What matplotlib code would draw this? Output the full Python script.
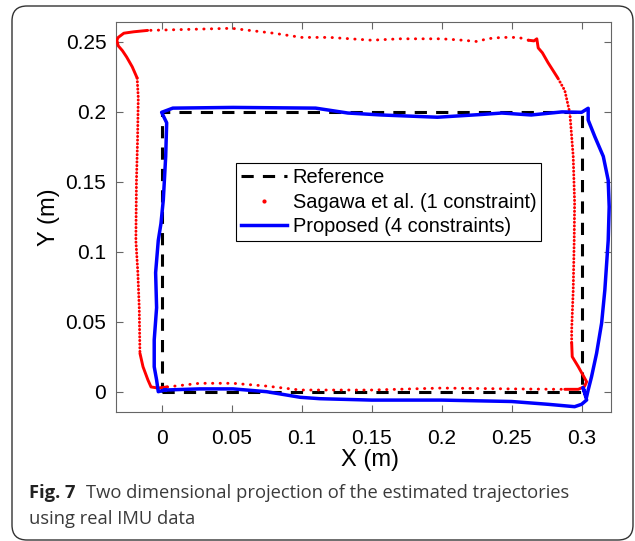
import matplotlib
matplotlib.use('Agg')
import matplotlib.pyplot as plt
from matplotlib.lines import Line2D
from matplotlib.patches import FancyBboxPatch
from matplotlib.ticker import FuncFormatter

# reference square path
ref_x = [0, 0.3, 0.3, 0, 0]
ref_y = [0, 0, 0.2, 0.2, 0]

# Sagawa et al. (1 constraint)
sag_x = [0.004, 0.027, 0.051, 0.075, 0.099, 0.15, 0.2, 0.25, 0.288,
         0.2976, 0.302, 0.3036, 0.2976, 0.2933, 0.2929,
         0.2929, 0.294, 0.2947, 0.295, 0.294, 0.2916, 0.288, 0.283,
         0.276, 0.272, 0.269, 0.268, 0.266, 0.262,
         0.255, 0.243, 0.232, 0.226, 0.215, 0.2, 0.17, 0.15, 0.12, 0.1,
         0.08, 0.05, 0.03, 0.01, -0.01,
         -0.02, -0.027, -0.031, -0.032, -0.031, -0.028, -0.025, -0.021, -0.0175,
         -0.0167, -0.0172, -0.018, -0.0184, -0.017, -0.016, -0.0155,
         -0.0133, -0.0098, -0.0076, -0.0026, 0.004]
sag_y = [0.0034, 0.006, 0.006, 0.004, 0.0012, 0.0012, 0.0026, 0.002, 0.0017,
         0.0017, 0.0036, 0.0071, 0.0179, 0.025, 0.035,
         0.044, 0.0726, 0.108, 0.135, 0.168, 0.199, 0.215, 0.224,
         0.235, 0.242, 0.2455, 0.252, 0.2505, 0.251,
         0.253, 0.253, 0.252, 0.250, 0.251, 0.252, 0.252, 0.251, 0.253, 0.253,
         0.256, 0.2595, 0.259, 0.2585, 0.258,
         0.257, 0.256, 0.253, 0.251, 0.247, 0.2435, 0.239, 0.232, 0.224,
         0.21, 0.18, 0.15, 0.108, 0.085, 0.060, 0.0275,
         0.0178, 0.0084, 0.0034, 0.0026, 0.0034]

# Proposed (4 constraints)
prop_x = [0.0024, 0.027, 0.051, 0.075, 0.099, 0.113, 0.15, 0.2, 0.25, 0.276,
          0.295, 0.300, 0.3036, 0.301, 0.3035, 0.3047, 0.3071, 0.3107, 0.3143,
          0.3166, 0.319, 0.3197, 0.319, 0.3155, 0.3095, 0.3047, 0.3047, 0.300,
          0.286, 0.264, 0.243, 0.229, 0.197, 0.157, 0.133, 0.11, 0.051, 0.008,
          0.0, 0.0036, 0.0029, 0.0012, -0.0005, -0.0024, -0.0043, -0.0036,
          -0.0053, -0.0053, -0.0036, -0.0024, 0.0024]
prop_y = [0.0012, 0.002, 0.002, 0.0, -0.004, -0.005, -0.006, -0.006, -0.007, -0.009,
          -0.0107, -0.009, -0.0059, 0.003, -0.004, 0.0012, 0.0107, 0.0274, 0.049,
          0.0726, 0.108, 0.132, 0.151, 0.168, 0.182, 0.194, 0.2024, 0.1995,
          0.1998, 0.1976, 0.199, 0.198, 0.196, 0.1976, 0.199, 0.2025, 0.203, 0.2025,
          0.1995, 0.192, 0.168, 0.137, 0.12, 0.108, 0.085, 0.060,
          0.037, 0.0178, 0.0084, 0.0, 0.0012]

xticks = [0, 0.05, 0.1, 0.15, 0.2, 0.25, 0.3]
yticks = [0, 0.05, 0.1, 0.15, 0.2, 0.25]

# pieces of the red track: sparse dots, solid where the samples pile up, dense dots
sag_pieces = [(0, 9, 'sparse'), (8, 15, 'solid'), (14, 23, 'dense'),
              (22, 29, 'solid'), (28, 44, 'sparse'), (43, 53, 'solid'),
              (52, 60, 'dense'), (59, 65, 'solid')]
styles = {'sparse': (0, (0.1, 2.5)), 'dense': (0, (0.1, 1.15)), 'solid': '-'}

fig = plt.figure(figsize=(6.35, 5.41), dpi=100)
ax = fig.add_axes([116 / 635, 129 / 541, 495 / 635, 390 / 541])

ax.plot(ref_x, ref_y, color='k', lw=2.2, linestyle=(0, (4, 3)), zorder=2)
for a, b, kind in sag_pieces:
    ax.plot(sag_x[a:b], sag_y[a:b], color='red', lw=2.1,
            linestyle=styles[kind], dash_capstyle='round',
            solid_capstyle='round', zorder=3)
hp, = ax.plot(prop_x, prop_y, color='#0000ff', lw=2.5, zorder=4)

ax.set_xlim(-0.0326, 0.321)
ax.set_ylim(-0.0145, 0.264)
ax.set_xticks(xticks)
ax.set_yticks(yticks)
fmt = FuncFormatter(lambda v, p: '%g' % round(v, 3))
ax.xaxis.set_major_formatter(fmt)
ax.yaxis.set_major_formatter(fmt)

for s in ax.spines.values():
    s.set_color('#666666')
    s.set_linewidth(0.8)
ax.tick_params(direction='in', top=True, right=True, length=5, width=0.8,
               color='#666666', labelsize=15, labelcolor='k',
               labelfontfamily='Liberation Sans')
ax.tick_params(axis='x', pad=12)
ax.tick_params(axis='y', pad=7)

ax.set_xlabel('X (m)', fontsize=17, family='Liberation Sans', va='center')
ax.set_ylabel('Y (m)', fontsize=17, family='Liberation Sans', va='center')
ax.xaxis.set_label_coords(0.513, -0.123)
ax.yaxis.set_label_coords(-0.136, 0.5)

ref_h = Line2D([], [], color='k', lw=2.2, linestyle=(0, (4, 3)))
sag_h = Line2D([], [], color='red', marker='.', markersize=4, linestyle='none')
leg = ax.legend([ref_h, sag_h, hp],
                ['Reference', 'Sagawa et al. (1 constraint)', 'Proposed (4 constraints)'],
                loc='upper left', bbox_to_anchor=(0.242, 0.638), borderaxespad=0,
                prop={'family': 'Liberation Sans', 'size': 14.4},
                handlelength=2.3, handletextpad=0.28, labelspacing=0.27,
                borderpad=0.26, fancybox=False, framealpha=1, edgecolor='k')
leg.get_frame().set_linewidth(0.8)

# caption and rounded border
fig.canvas.draw()
t1 = fig.text(29 / 635, (541 - 498) / 541, 'Fig. 7', fontsize=13.2, weight='bold',
              family='Open Sans', color='#222222', va='baseline')
fig.canvas.draw()
bb = t1.get_window_extent()
fig.text((bb.x1 + 10) / 635, (541 - 498) / 541,
         'Two dimensional projection of the estimated trajectories',
         fontsize=13.2, family='Open Sans', color='#3a3a3a', va='baseline')
fig.text(29 / 635, (541 - 524) / 541, 'using real IMU data',
         fontsize=13.2, family='Open Sans', color='#3a3a3a', va='baseline')

box = FancyBboxPatch((0.12, 0.01), 6.21, 5.34, boxstyle='round,pad=0,rounding_size=0.15',
                     transform=fig.dpi_scale_trans, facecolor='none',
                     edgecolor='#333333', lw=1.0)
fig.patches.append(box)

fig.savefig('out.png', dpi=100)
